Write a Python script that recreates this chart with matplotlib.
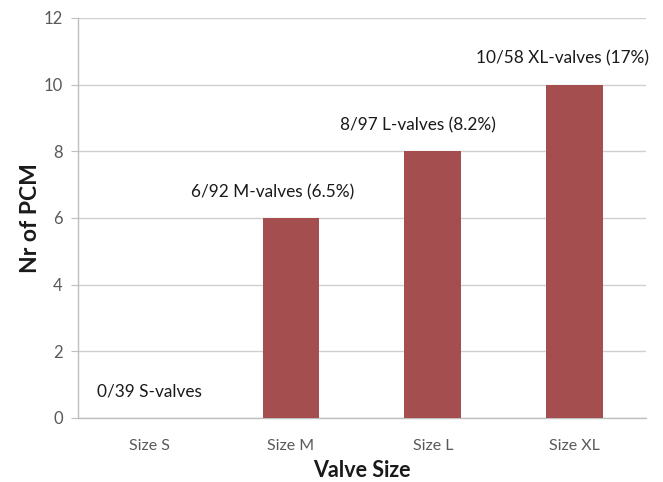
import matplotlib
matplotlib.use("Agg")
import matplotlib.pyplot as plt

categories = ["Size S", "Size M", "Size L", "Size XL"]
pcm_counts = [0, 6, 8, 10]
bar_labels = ["0/39 S-valves", "6/92 M-valves (6.5%)",
              "8/97 L-valves (8.2%)", "10/58 XL-valves (17%)"]
y_ticks = [0, 2, 4, 6, 8, 10, 12]

# horizontal nudges for the annotation text (in category units)
label_dx = [0.0, -0.13, -0.105, -0.085]

plt.rcParams['font.family'] = ['Lato', 'DejaVu Sans']

fig = plt.figure(figsize=(6.63, 4.82), dpi=100)
ax = fig.add_axes([0.1176, 0.1328, 0.974 - 0.1176, 0.9627 - 0.1328])

x = list(range(len(categories)))
ax.bar(x, pcm_counts, width=0.4, color="#A54E4F", zorder=3)

for xi, v, txt, dx in zip(x, pcm_counts, bar_labels, label_dx):
    ax.text(xi + dx, v + 0.78, txt, ha="center", va="center",
            fontsize=12.4, color="#1a1a1a", zorder=4)

ax.set_xlim(-0.5, 3.5)
ax.set_ylim(0, 12)
ax.set_yticks(y_ticks)
ax.set_xticks(x)
ax.set_xticklabels(categories)

ax.grid(axis="y", color="#D0D0D0", linewidth=1.0, zorder=0)
ax.set_axisbelow(True)

for side in ["top", "right"]:
    ax.spines[side].set_visible(False)
ax.spines["left"].set_color("#BFBFBF")
ax.spines["bottom"].set_color("#BFBFBF")
ax.spines["left"].set_linewidth(1.0)
ax.spines["bottom"].set_linewidth(1.0)

ax.tick_params(axis="y", length=5, color="#BFBFBF", labelsize=12,
               labelcolor="#595959", pad=6)
ax.tick_params(axis="x", length=0, labelsize=11.5, labelcolor="#595959", pad=15)

ax.set_ylabel("Nr of PCM", fontsize=16.5, fontweight="bold", color="#1a1a1a",
              labelpad=2)
ax.set_xlabel("Valve Size", fontsize=15.5, fontweight="bold", color="#1a1a1a",
              labelpad=5)

fig.savefig("out.png", dpi=100, facecolor="white")
